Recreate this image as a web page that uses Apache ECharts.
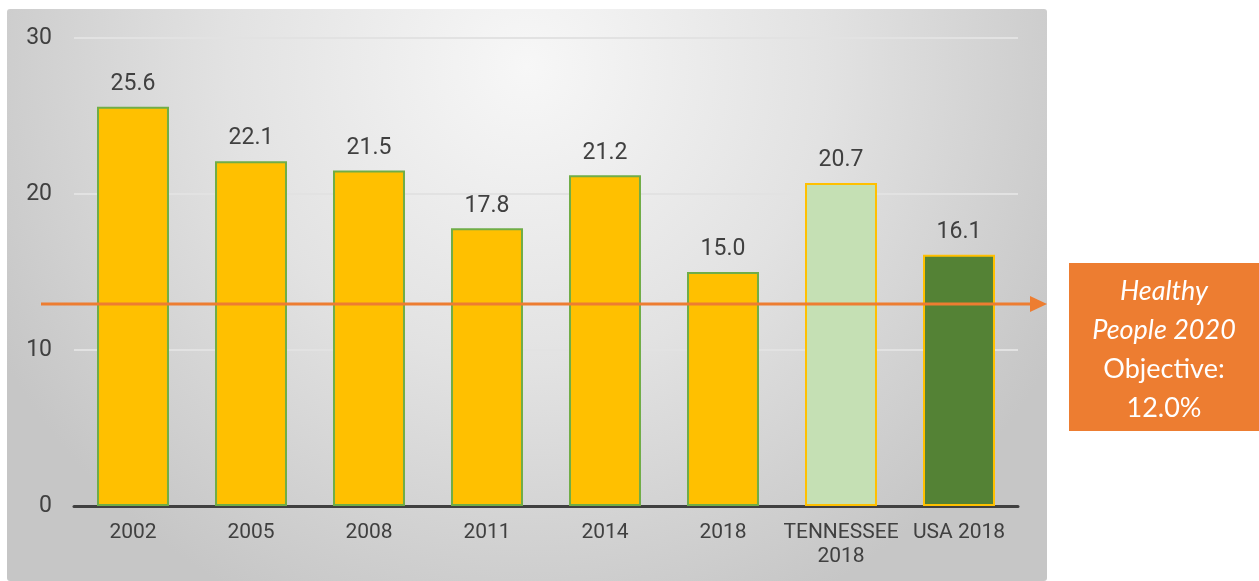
<!DOCTYPE html>
<html>
<head>
<meta charset="utf-8">
<script src="https://cdn.jsdelivr.net/npm/echarts@6/dist/echarts.min.js"></script>
<style>
  html, body { margin: 0; padding: 0; background: #fff; }
  #chart { width: 1259px; height: 581px; }
</style>
</head>
<body>
<div id="chart"></div>
<script>
// data
const categories = ["2002", "2005", "2008", "2011", "2014", "2018", "TENNESSEE\n2018", "USA 2018"];
const values = [25.6, 22.1, 21.5, 17.8, 21.2, 15.0, 20.7, 16.1];
const yTicks = [0, 10, 20, 30];
// the arrow sits a bit above 12 in the picture
const objectiveLine = 12.95;
const objectiveText = ["Healthy", "People 2020", "Objective:", "12.0%"];

const barFill = ["#FFC000", "#FFC000", "#FFC000", "#FFC000", "#FFC000", "#FFC000", "#C5E0B4", "#548235"];
const barEdge = ["#70AD47", "#70AD47", "#70AD47", "#70AD47", "#70AD47", "#70AD47", "#FFC000", "#FFC000"];

const font = "Roboto, 'Liberation Sans', sans-serif";

const myChart = echarts.init(document.getElementById("chart"));

const option = {
  animation: false,
  backgroundColor: "#ffffff",
  grid: { left: 74, right: 241, top: 38, bottom: 75, containLabel: false },
  xAxis: {
    type: "category",
    data: categories,
    axisLine: { lineStyle: { color: "#404040", width: 3 } },
    axisTick: { show: false },
    axisLabel: {
      color: "#404040",
      fontSize: 21,
      fontFamily: font,
      margin: 15,
      lineHeight: 24,
      interval: 0
    }
  },
  yAxis: {
    type: "value",
    min: yTicks[0],
    max: yTicks[yTicks.length - 1],
    interval: 10,
    axisLine: { show: false },
    axisTick: { show: false },
    axisLabel: { color: "#404040", fontSize: 23, fontFamily: font, margin: 22 },
    splitLine: { lineStyle: { color: "#e2e2e2", width: 2 } }
  },
  series: [
    {
      type: "bar",
      barCategoryGap: "39%",
      data: values.map((v, i) => ({
        value: v,
        itemStyle: { color: barFill[i], borderColor: barEdge[i], borderWidth: 2 }
      })),
      label: {
        show: true,
        position: "top",
        distance: 11,
        color: "#404040",
        fontSize: 23,
        fontFamily: font,
        formatter: (p) => p.value.toFixed(1)
      },
      z: 3
    }
  ]
};
myChart.setOption(option);

// background panel, objective arrow and the text box
const lineY = myChart.convertToPixel({ yAxisIndex: 0 }, objectiveLine);
const boxX = 1069, boxY = 263, boxW = 190, boxH = 168;

myChart.setOption({
  graphic: [
    {
      id: "panel",
      type: "rect",
      z: -10,
      silent: true,
      shape: { x: 7, y: 9, width: 1040, height: 572, r: 3 },
      style: {
        fill: {
          type: "radial",
          x: 0.5, y: 0.1, r: 1.05,
          colorStops: [
            { offset: 0, color: "#f7f7f7" },
            { offset: 0.5, color: "#e2e2e2" },
            { offset: 1, color: "#c6c6c6" }
          ]
        }
      }
    },
    {
      id: "objLine",
      type: "line",
      z: 20,
      shape: { x1: 41, y1: lineY, x2: 1032, y2: lineY },
      style: { stroke: "#ED7D31", lineWidth: 3 }
    },
    {
      id: "objArrow",
      type: "polygon",
      z: 20,
      shape: { points: [[1030, lineY - 8], [1047, lineY], [1030, lineY + 8]] },
      style: { fill: "#ED7D31" }
    },
    {
      id: "objBox",
      type: "rect",
      z: 20,
      shape: { x: boxX, y: boxY, width: boxW, height: boxH },
      style: { fill: "#ED7D31" }
    }
  ].concat(objectiveText.map((t, i) => ({
    id: "objText" + i,
    type: "text",
    z: 21,
    x: boxX + boxW / 2,
    y: boxY + 28 + i * 39,
    style: {
      text: t,
      fill: "#ffffff",
      fontSize: 27,
      fontFamily: "Lato, 'Open Sans', sans-serif",
      fontStyle: i < 2 ? "italic" : "normal",
      align: "center",
      verticalAlign: "middle"
    }
  })))
});
</script>
</body>
</html>
